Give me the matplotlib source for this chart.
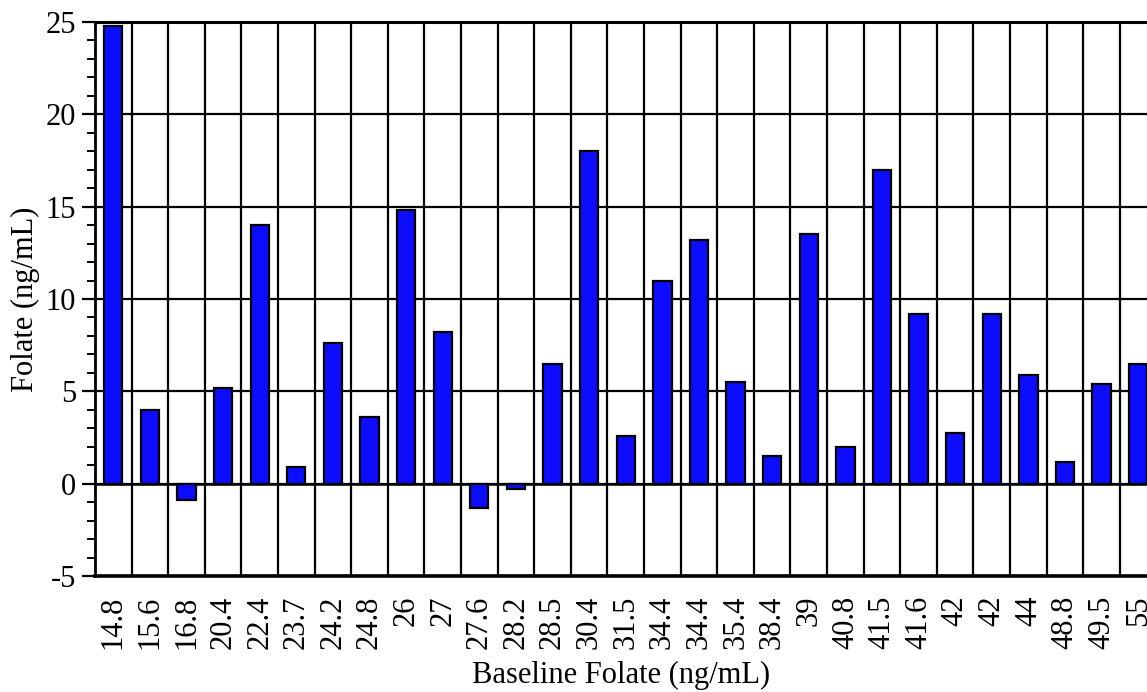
import matplotlib.pyplot as plt
from matplotlib.ticker import MultipleLocator, FixedLocator
import numpy as np

baseline = ['14.8', '15.6', '16.8', '20.4', '22.4', '23.7', '24.2', '24.8', '26', '27',
            '27.6', '28.2', '28.5', '30.4', '31.5', '34.4', '34.4', '35.4', '38.4', '39',
            '40.8', '41.5', '41.6', '42', '42', '44', '48.8', '49.5', '55']
folate = [24.8, 4.0, -0.9, 5.2, 14.0, 0.9, 7.6, 3.6, 14.8, 8.2,
          -1.3, -0.3, 6.5, 18.0, 2.6, 11.0, 13.2, 5.5, 1.5, 13.5,
          2.0, 17.0, 9.2, 2.75, 9.2, 5.9, 1.15, 5.4, 6.5]

plt.rcParams['font.family'] = ['Liberation Serif', 'DejaVu Serif']
plt.rcParams['axes.unicode_minus'] = False

fig = plt.figure(figsize=(11.47, 6.92), dpi=100)
ax = fig.add_axes([95 / 1147, 116 / 692, 1 - 95 / 1147, (576 - 22) / 692])

x = np.arange(len(baseline))
ax.bar(x, folate, width=0.5, color='#0c0cff', edgecolor='black', linewidth=1.6, zorder=3)

ax.set_xlim(-0.5, 28.24)
ax.set_ylim(-5, 25)

ax.set_xticks(x)
ax.set_xticklabels(baseline, rotation=90, fontsize=22)
ax.xaxis.set_minor_locator(FixedLocator(np.arange(0.5, len(baseline), 1.0)))
ax.tick_params(axis='x', which='both', length=0, pad=14)

ax.yaxis.set_major_locator(MultipleLocator(5))
ax.yaxis.set_minor_locator(MultipleLocator(1))
ax.tick_params(axis='y', which='major', length=9.5, width=1.6, labelsize=22, pad=4)
ax.tick_params(axis='y', which='minor', length=5.8, width=1.4)

ax.grid(axis='x', which='minor', color='black', linewidth=1.6, zorder=1)
ax.grid(axis='y', which='major', color='black', linewidth=1.6, zorder=1)
ax.axhline(0, color='black', linewidth=1.8, zorder=2)
ax.set_axisbelow(True)

ax.spines['right'].set_visible(False)
ax.spines['top'].set_linewidth(2.2)
ax.spines['left'].set_linewidth(2.0)
ax.spines['bottom'].set_linewidth(2.6)

ax.set_xlabel('Baseline Folate (ng/mL)', fontsize=22, labelpad=9)
ax.set_ylabel('Folate (ng/mL)', fontsize=22, labelpad=4)

fig.savefig('out.png', dpi=100)
